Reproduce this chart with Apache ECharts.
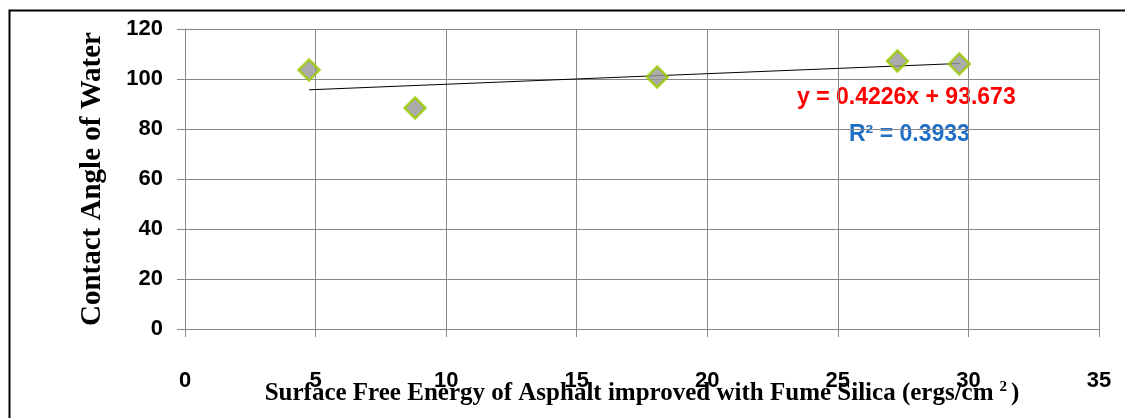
<!DOCTYPE html>
<html>
<head>
<meta charset="utf-8">
<script src="https://cdn.jsdelivr.net/npm/echarts@6/dist/echarts.min.js"></script>
<style>
  html, body { margin: 0; padding: 0; background: #fff; }
  #chart { width: 1125px; height: 418px; }
</style>
</head>
<body>
<div id="chart"></div>
<script>
// surface free energy (ergs/cm2) vs contact angle of water
const xValues = [4.75, 8.81, 18.08, 27.28, 29.65]
const yValues = [103.6, 88.4, 100.8, 107.2, 106.0]
const trendSlope = 0.4226
const trendIntercept = 93.673
const rSquared = 0.3933
const xTicks = { min: 0, max: 35, interval: 5 }
const yTicks = { min: 0, max: 120, interval: 20 }

const points = xValues.map((x, i) => [x, yValues[i]])
const xLo = Math.min(...xValues)
const xHi = Math.max(...xValues)
const trendLine = [xLo, xHi].map(x => [x, trendSlope * x + trendIntercept])

const gridColor = '#888888'
const labelFont = '"Liberation Sans", Arial, sans-serif'
const titleFont = '"Liberation Serif", "Times New Roman", serif'

const chart = echarts.init(document.getElementById('chart'))
chart.setOption({
  animation: false,
  backgroundColor: '#fff',
  grid: { left: 185, top: 29, width: 914, height: 300, containLabel: false, outerBoundsMode: 'none' },
  xAxis: {
    type: 'value',
    min: xTicks.min,
    max: xTicks.max,
    interval: xTicks.interval,
    name: 'Surface Free Energy of Asphalt improved with Fume Silica (ergs/cm{sup|2})',
    nameLocation: 'middle',
    nameGap: 51,
    nameMoveOverlap: false,
    nameTextStyle: {
      fontFamily: titleFont,
      fontWeight: 'bold',
      fontSize: 25,
      color: '#000',
      rich: {
        sup: { fontFamily: titleFont, fontWeight: 'bold', fontSize: 15, color: '#000', padding: [0, 4, 12, 6] }
      }
    },
    axisLine: { show: true, lineStyle: { color: gridColor } },
    axisTick: { show: true, inside: false, length: 8, lineStyle: { color: gridColor } },
    axisLabel: { margin: 41, fontFamily: labelFont, fontWeight: 'bold', fontSize: 22, color: '#000' },
    splitLine: { show: true, lineStyle: { color: gridColor, width: 1 } }
  },
  yAxis: {
    type: 'value',
    min: yTicks.min,
    max: yTicks.max,
    interval: yTicks.interval,
    name: 'Contact Angle of Water',
    nameLocation: 'middle',
    nameRotate: 90,
    nameGap: 78,
    nameMoveOverlap: false,
    nameTextStyle: { fontFamily: titleFont, fontWeight: 'bold', fontSize: 29, color: '#000' },
    axisLine: { show: true, lineStyle: { color: gridColor } },
    axisTick: { show: true, inside: false, length: 8, lineStyle: { color: gridColor } },
    axisLabel: { margin: 22, fontFamily: labelFont, fontWeight: 'bold', fontSize: 22, color: '#000' },
    splitLine: { show: true, lineStyle: { color: gridColor, width: 1 } }
  },
  graphic: [
    {
      type: 'rect',
      left: 7, top: 8,
      shape: { width: 1140, height: 430 },
      style: { fill: 'none', stroke: '#000', lineWidth: 2 },
      silent: true
    },
    {
      type: 'text',
      left: 797, top: 86,
      style: {
        text: 'y = ' + trendSlope + 'x + ' + trendIntercept,
        fill: '#ff0000',
        font: 'bold 23px ' + labelFont
      }
    },
    {
      type: 'text',
      left: 849, top: 123,
      style: {
        text: 'R\u00b2 = ' + rSquared,
        fill: '#1f6fc6',
        font: 'bold 23px ' + labelFont
      }
    }
  ],
  series: [
    {
      type: 'line',
      data: trendLine,
      symbol: 'none',
      lineStyle: { color: '#000', width: 1 },
      z: 2
    },
    {
      type: 'scatter',
      data: points,
      symbol: 'diamond',
      symbolSize: 21,
      itemStyle: { color: '#969696', borderColor: '#99cc00', borderWidth: 2.5 },
      z: 3
    }
  ]
})
</script>
</body>
</html>
